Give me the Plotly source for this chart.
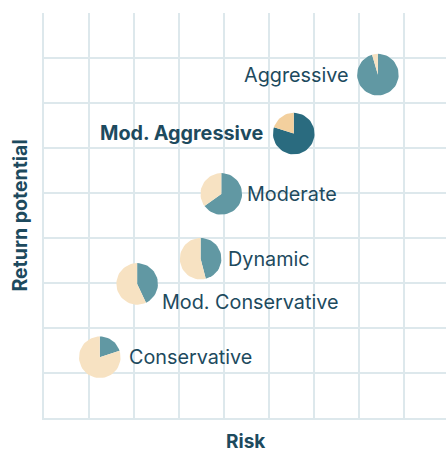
import numpy as np
import plotly.graph_objects as go

# Portfolio profiles: position on the risk / return grid and equity share
profiles = ["Conservative", "Mod. Conservative", "Dynamic", "Moderate",
            "Mod. Aggressive", "Aggressive"]
risk = [1.24, 2.07, 3.48, 3.94, 5.55, 7.42]
return_potential = [1.35, 2.98, 3.54, 4.98, 6.32, 7.63]
equity_pct = [20, 43, 46, 65, 80, 95.5]

TEAL = "#6198a3"
TEAL_DARK = "#2a6b7f"
SAND = "#f7e2c2"
SAND_DARK = "#f3d09e"
INK = "#1d4a5e"
GRID = "#dde8ec"
FONT = "Inter, Lato, sans-serif"

RADIUS = 0.462  # pie radius in axis units (both axes share the same scale)
highlight = "Mod. Aggressive"

# label placement relative to the pie centre: (xanchor, xshift, yshift)
label_place = {
    "Conservative": ("left", 27, 0),
    "Mod. Conservative": ("left", 23, -18),
    "Dynamic": ("left", 25, 0),
    "Moderate": ("left", 24, 0),
    "Mod. Aggressive": ("right", -29, 1),
    "Aggressive": ("right", -27, 0),
}


def wedge(cx, cy, start_frac, end_frac, n=60):
    """Polygon of a pie slice, fractions measured clockwise from 12 o'clock."""
    t = np.linspace(start_frac, end_frac, max(3, int(n * (end_frac - start_frac)) + 2))
    ang = np.pi / 2 - 2 * np.pi * t
    xs = np.concatenate([[cx], cx + RADIUS * np.cos(ang), [cx]])
    ys = np.concatenate([[cy], cy + RADIUS * np.sin(ang), [cy]])
    return xs, ys


fig = go.Figure()
annotations = []
for name, x, y, eq in zip(profiles, risk, return_potential, equity_pct):
    hi = name == highlight
    f = eq / 100.0
    for (a, b), color in (((0.0, f), TEAL_DARK if hi else TEAL),
                          ((f, 1.0), SAND_DARK if hi else SAND)):
        xs, ys = wedge(x, y, a, b)
        fig.add_trace(go.Scatter(x=xs, y=ys, mode="lines", fill="toself",
                                 fillcolor=color, line=dict(width=0, color=color),
                                 hoverinfo="skip", showlegend=False))
    anchor, dx, dy = label_place[name]
    annotations.append(dict(
        x=x, y=y, xref="x", yref="y", text=f"<b>{name}</b>" if hi else name,
        showarrow=False, xanchor=anchor, yanchor="middle", xshift=dx, yshift=dy,
        font=dict(family=FONT, size=19.8, color=INK)))

annotations.append(dict(x=0.5, y=0, xref="paper", yref="paper", text="<b>Risk</b>",
                        showarrow=False, xanchor="center", yanchor="middle", yshift=-23,
                        font=dict(family=FONT, size=19, color=INK)))
annotations.append(dict(x=-0.062, y=0.5, xref="paper", yref="paper",
                        text="<b>Return potential</b>", textangle=-90,
                        showarrow=False, xanchor="center", yanchor="middle",
                        font=dict(family=FONT, size=19.5, color=INK)))

axis_common = dict(showgrid=True, gridcolor=GRID, gridwidth=2, zeroline=False,
                   showticklabels=False, ticks="", showline=True, linecolor=GRID,
                   linewidth=2, dtick=1, tick0=0, fixedrange=True)

fig.update_layout(
    width=446, height=449,
    margin=dict(l=44, r=0, t=13, b=31),
    paper_bgcolor="white", plot_bgcolor="white",
    xaxis=dict(range=[0, 402 / 45], **axis_common),
    yaxis=dict(range=[0, 9], **axis_common),
    annotations=annotations,
)

fig.write_html("out.html")
